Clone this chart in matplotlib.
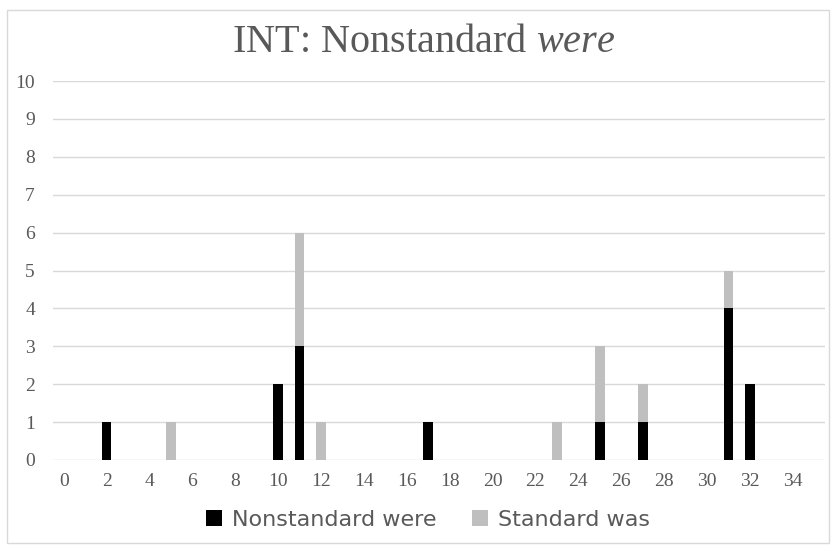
import numpy as np
import matplotlib
matplotlib.use("Agg")
from matplotlib import pyplot as plt
from matplotlib.patches import Rectangle

# speaker ages / positions 0..35
categories = list(range(36))
nonstandard_were = [0, 0, 1, 0, 0, 0, 0, 0, 0, 0, 2, 3, 0, 0, 0, 0, 0, 1,
                    0, 0, 0, 0, 0, 0, 0, 1, 0, 1, 0, 0, 0, 4, 2, 0, 0, 0]
standard_was = [0, 0, 0, 0, 0, 1, 0, 0, 0, 0, 0, 3, 1, 0, 0, 0, 0, 0,
                0, 0, 0, 0, 0, 1, 0, 2, 0, 1, 0, 0, 0, 1, 0, 0, 0, 0]
yticks = list(range(0, 11))

txt = '#595959'
serif = ['Liberation Serif', 'DejaVu Serif']
sans = ['DejaVu Sans']

plt.rcParams['mathtext.fontset'] = 'custom'
plt.rcParams['mathtext.rm'] = 'Liberation Serif'
plt.rcParams['mathtext.it'] = 'Liberation Serif:italic'

fig = plt.figure(figsize=(8.32, 5.46), dpi=100)
# chart area frame
fig.patches.append(Rectangle((7/832, 3/546), 822/832, 533/546, transform=fig.transFigure,
                             fill=False, edgecolor='#d9d9d9', lw=1))

ax = fig.add_axes([53/832, 1-460/546, 772/832, 379/546])
x = np.arange(len(categories))
b1 = ax.bar(x, nonstandard_were, width=0.45, color='black', label='Nonstandard were', zorder=3)
b2 = ax.bar(x, standard_was, width=0.45, bottom=nonstandard_were, color='#bfbfbf',
            label='Standard was', zorder=3)

ax.set_xlim(-0.5, len(categories) - 0.5)
ax.set_ylim(0, 10)
ax.set_yticks(yticks)
ax.set_xticks(x[::2])
ax.set_xticklabels([str(c) for c in categories[::2]])
ax.grid(axis='y', color='#d9d9d9', lw=1, zorder=0)
for s in ax.spines.values():
    s.set_visible(False)
ax.tick_params(length=0, labelcolor=txt, labelsize=14)
ax.tick_params(axis='x', pad=9)
ax.tick_params(axis='y', pad=13)
for lab in ax.get_xticklabels() + ax.get_yticklabels():
    lab.set_family(serif)

fig.text(0.509, 1-43/546, 'INT: Nonstandard $were$', ha='center', va='center',
         fontsize=29, color=txt, family=serif)

ax.legend(handles=[b1, b2], loc='center', bbox_to_anchor=(428/832, 1-520/546), bbox_transform=fig.transFigure,
          ncol=2, frameon=False, prop={'family': sans, 'size': 16}, labelcolor=txt,
          handlelength=0.7, handleheight=0.7, handletextpad=0.45, columnspacing=1.6)

fig.savefig('out.png', dpi=100)
